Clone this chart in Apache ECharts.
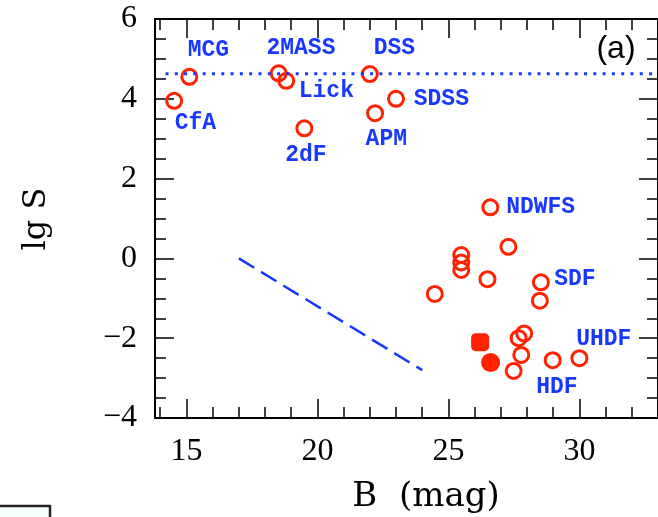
<!DOCTYPE html>
<html>
<head>
<meta charset="utf-8">
<script src="https://cdn.jsdelivr.net/npm/echarts@6/dist/echarts.min.js"></script>
<style>html,body{margin:0;padding:0;background:#fff}#c{width:658px;height:517px}</style>
</head>
<body>
<div id="c"></div>
<script>
// ---- data ----
const openB   = [14.53,15.11,18.52,18.81,22.00,19.50,22.20,23.00,26.60,27.29,25.49,25.49,25.49,26.49,24.48,28.53,28.49,27.89,27.68,27.78,27.49,28.98,30.00];
const openLgS = [3.95, 4.55, 4.64, 4.45, 4.62, 3.26, 3.64, 4.00, 1.28, 0.29, 0.085,-0.10,-0.29,-0.52,-0.89,-0.60,-1.06,-1.88,-2.00,-2.42,-2.82,-2.55,-2.50];
const squareB = [26.21], squareLgS = [-2.10];
const dotB = [26.61], dotLgS = [-2.61];
const labelNames = ['MCG','2MASS','DSS','Lick','CfA','2dF','APM','SDSS','NDWFS','SDF','UHDF','HDF'];
const labelB     = [15.84,19.37,22.94,20.34,15.34,19.56,22.63,24.73,28.52,29.83,30.93,29.14];
const labelLgS   = [5.22, 5.28, 5.28, 4.20, 3.39, 2.59, 2.98, 3.98, 1.28,-0.52,-2.03,-3.23];
const dottedB = [14.2, 33], dottedLgS = [4.63, 4.63];
const dashedB = [17, 24], dashedLgS = [0, -2.8];
const xMajor = [15,20,25,30];
const xMinor = [14,16,17,18,19,21,22,23,24,26,27,28,29,31,32,33];
const yMajor = [-4,-2,0,2,4,6];
const yMinor = [-3.5,-3,-2.5,-1.5,-1,-0.5,0.5,1,1.5,2.5,3,3.5,4.5,5,5.5];

const RED = '#ff2200', BLUE = '#1838ff';
const zip = (a,b) => a.map((v,i)=>[v,b[i]]);

const xBase = {type:'value', min:13.8, max:33, splitLine:{show:false}};
const yBase = {type:'value', min:-4, max:6, splitLine:{show:false}};
const lineOn = {show:true, onZero:false, lineStyle:{color:'#000', width:2}};
const lineOff = {show:false, onZero:false};
const tickFont = {fontFamily:'Liberation Serif', fontSize:32, color:'#000'};

const chart = echarts.init(document.getElementById('c'), null, {renderer:'canvas'});
chart.setOption({
  animation:false,
  backgroundColor:'#fff',
  grid:{left:155, top:19, right:-8, bottom:99, containLabel:false},
  xAxis:[
    Object.assign({}, xBase, {position:'bottom', axisLine:lineOn,
      axisTick:{show:true, inside:true, length:19, customValues:xMajor, lineStyle:{color:'#000', width:1.5}},
      axisLabel:Object.assign({show:true, margin:18, customValues:xMajor}, tickFont)}),
    Object.assign({}, xBase, {position:'bottom', axisLine:lineOff,
      axisTick:{show:true, inside:true, length:11, customValues:xMinor, lineStyle:{color:'#000', width:1.5}},
      axisLabel:{show:false}}),
    Object.assign({}, xBase, {position:'top', axisLine:lineOn,
      axisTick:{show:true, inside:true, length:19, customValues:xMajor, lineStyle:{color:'#000', width:1.5}},
      axisLabel:{show:false}}),
    Object.assign({}, xBase, {position:'top', axisLine:lineOff,
      axisTick:{show:true, inside:true, length:11, customValues:xMinor, lineStyle:{color:'#000', width:1.5}},
      axisLabel:{show:false}})
  ],
  yAxis:[
    Object.assign({}, yBase, {position:'left', axisLine:lineOn,
      axisTick:{show:true, inside:true, length:19, customValues:yMajor, lineStyle:{color:'#000', width:1.5}},
      axisLabel:Object.assign({show:true, margin:18, customValues:yMajor,
        formatter:v=>String(v).replace('-', '\u2212')}, tickFont)}),
    Object.assign({}, yBase, {position:'left', axisLine:lineOff,
      axisTick:{show:true, inside:true, length:11, customValues:yMinor, lineStyle:{color:'#000', width:1.5}},
      axisLabel:{show:false}}),
    Object.assign({}, yBase, {position:'right', axisLine:lineOn,
      axisTick:{show:true, inside:true, length:19, customValues:yMajor, lineStyle:{color:'#000', width:1.5}},
      axisLabel:{show:false}}),
    Object.assign({}, yBase, {position:'right', axisLine:lineOff,
      axisTick:{show:true, inside:true, length:11, customValues:yMinor, lineStyle:{color:'#000', width:1.5}},
      axisLabel:{show:false}})
  ],
  series:[
    {type:'line', data:zip(dottedB, dottedLgS), symbol:'none', silent:true,
      lineStyle:{color:BLUE, width:3, type:[3,6.3], opacity:1}},
    {type:'line', data:zip(dashedB, dashedLgS), symbol:'none', silent:true,
      lineStyle:{color:BLUE, width:2.5, type:[18,8], opacity:1}},
    {type:'scatter', data:zip(openB, openLgS), symbol:'circle', symbolSize:15,
      itemStyle:{color:'rgba(0,0,0,0)', borderColor:RED, borderWidth:3, opacity:1}},
    {type:'scatter', data:zip(squareB, squareLgS), symbol:'roundRect', symbolSize:18,
      itemStyle:{color:RED, opacity:1}},
    {type:'scatter', data:zip(dotB, dotLgS), symbol:'circle', symbolSize:19,
      itemStyle:{color:RED, opacity:1}},
    {type:'scatter', symbolSize:1, itemStyle:{color:'rgba(0,0,0,0)', opacity:1},
      data:labelNames.map((n,i)=>({name:n, value:[labelB[i], labelLgS[i]]})),
      label:{show:true, position:'inside', formatter:p=>p.name, color:BLUE, opacity:1,
        fontFamily:'Liberation Mono', fontWeight:'bold', fontSize:23, align:'center', verticalAlign:'middle'}}
  ],
  graphic:[
    {type:'text', x:616, y:49, style:{text:'(a)', font:'32px "Liberation Sans"', fill:'#000', align:'center', verticalAlign:'middle'}},
    {type:'text', x:426, y:497, style:{text:'B  (mag)', font:'34px "DejaVu Serif"', fill:'#000', align:'center', verticalAlign:'middle'}},
    {type:'text', x:37, y:219, rotation:Math.PI/2, style:{text:'lg S', font:'32px "DejaVu Serif"', fill:'#000', align:'center', verticalAlign:'middle'}},
    {type:'rect', shape:{x:-5, y:506, width:55, height:25}, style:{fill:'#f7fffd', stroke:'#222', lineWidth:2.5}}
  ]
});
</script>
</body>
</html>
